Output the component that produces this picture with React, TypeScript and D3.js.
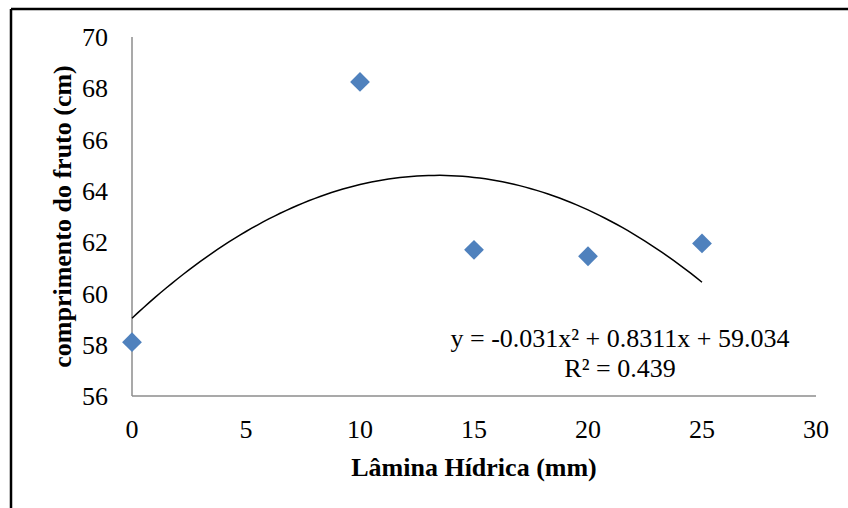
import * as d3 from 'd3';

const laminas = [0, 10, 15, 20, 25];
const comprimentos = [58.1, 68.25, 61.7, 61.45, 61.95];
const xTicks = [0, 5, 10, 15, 20, 25, 30];
const yTicks = [56, 58, 60, 62, 64, 66, 68, 70];
// trend line coefficients shown in the chart
const coef = { a: -0.031, b: 0.8311, c: 59.034 };

const W = 848;
const H = 508;
const font = '"Liberation Serif", "Times New Roman", serif';
const fs = 26;

const App = () => {
  const x = d3.scaleLinear().domain([0, 30]).range([132, 816]);
  const y = d3.scaleLinear().domain([56, 70]).range([396, 37]);

  const trendX = d3.range(0, 25.01, 0.25);
  const line = d3
    .line<number>()
    .x((d) => x(d))
    .y((d) => y(coef.a * d * d + coef.b * d + coef.c));

  const diamond = d3.symbol().type(d3.symbolDiamond2).size(250)();

  return (
    <svg
      width={W}
      height={H}
      style={{ position: 'absolute', left: 0, top: 0, background: '#fff' }}
    >
      <rect x={0} y={0} width={W} height={H} fill="#fff" />
      <line x1={11} y1={9} x2={W} y2={9} stroke="#000" strokeWidth={2.5} />
      <line x1={11} y1={9} x2={11} y2={H} stroke="#000" strokeWidth={2.5} />

      <line x1={x(0)} y1={y(70)} x2={x(0)} y2={y(56)} stroke="#8c8c8c" strokeWidth={1.5} />
      <line x1={x(0)} y1={y(56)} x2={x(30)} y2={y(56)} stroke="#8c8c8c" strokeWidth={1.5} />

      {yTicks.map((t) => (
        <text
          key={t}
          x={x(0) - 24}
          y={y(t)}
          dy="0.35em"
          textAnchor="end"
          fontFamily={font}
          fontSize={fs}
        >
          {t}
        </text>
      ))}
      {xTicks.map((t) => (
        <text
          key={t}
          x={x(t)}
          y={y(56) + 33}
          dy="0.35em"
          textAnchor="middle"
          fontFamily={font}
          fontSize={fs}
        >
          {t}
        </text>
      ))}

      <path d={line(trendX) ?? ''} fill="none" stroke="#000" strokeWidth={1.5} />

      {laminas.map((l, i) => (
        <path
          key={l}
          d={diamond ?? ''}
          transform={`translate(${x(l)},${y(comprimentos[i])})`}
          fill="#4f81bd"
        />
      ))}

      <text x={620} y={338} dy="0.35em" textAnchor="middle" fontFamily={font} fontSize={fs}>
        y = -0.031x² + 0.8311x + 59.034
      </text>
      <text x={620} y={368} dy="0.35em" textAnchor="middle" fontFamily={font} fontSize={fs}>
        R² = 0.439
      </text>

      <text
        x={474}
        y={467}
        dy="0.35em"
        textAnchor="middle"
        fontFamily={font}
        fontSize={fs}
        fontWeight="bold"
      >
        Lâmina Hídrica (mm)
      </text>
      <text
        transform={`translate(62, ${(y(56) + y(70)) / 2}) rotate(-90)`}
        dy="0.35em"
        textAnchor="middle"
        fontFamily={font}
        fontSize={fs}
        fontWeight="bold"
      >
        comprimento do fruto (cm)
      </text>
    </svg>
  );
};

export default App;
